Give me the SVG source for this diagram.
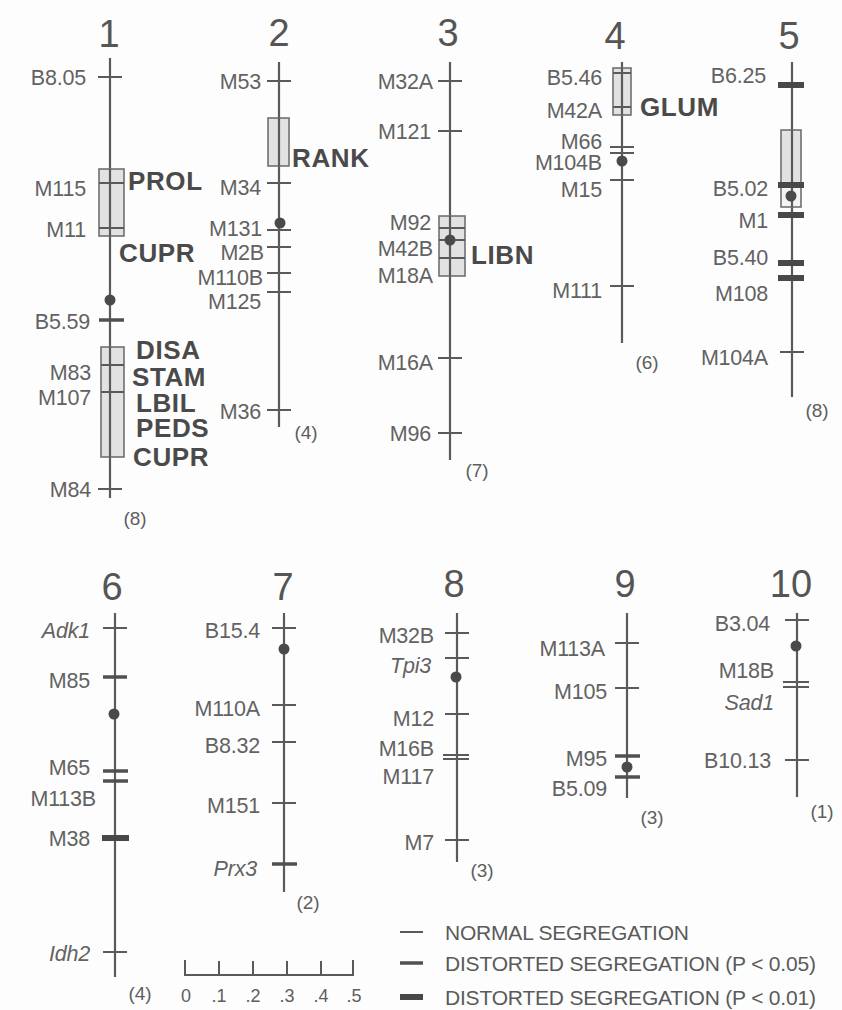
<svg xmlns="http://www.w3.org/2000/svg" width="842" height="1010" viewBox="0 0 842 1010">
<style>
.ax{stroke:#5a5a5a;stroke-width:2.2;fill:none}
.t1{stroke:#5a5a5a;stroke-width:2}
.t2{stroke:#505050;stroke-width:3.5}
.t3{stroke:#484848;stroke-width:6}
.bx{fill:#e2e2e2;stroke:#707070;stroke-width:1.6}
.bxw{fill:#f4f4f4;stroke:#707070;stroke-width:1.6}
.dot{fill:#4a4a4a}
text{font-family:"Liberation Sans",Arial,sans-serif}
.lb{font-size:21.5px;fill:#626262;text-anchor:end;letter-spacing:-0.2px}
.it{font-style:italic}
.bd{font-size:26px;font-weight:bold;fill:#4a4a4a;letter-spacing:0.6px}
.num{font-size:38px;fill:#555;text-anchor:middle}
.cnt{font-size:19px;fill:#5e5e5e;text-anchor:middle}
.lg{font-size:21px;fill:#5a5a5a;letter-spacing:-0.2px}
.sc{font-size:18px;fill:#5e5e5e;text-anchor:middle}
</style>
<rect width="842" height="1010" fill="#fdfdfd"/>

<g id="chr1">
<text class="num" x="109" y="47">1</text>
<line class="ax" x1="110" y1="58" x2="110" y2="498"/>
<rect class="bx" x="99" y="169" width="25" height="67"/>
<rect class="bx" x="101" y="347" width="23" height="110"/>
<line class="ax" x1="110" y1="169" x2="110" y2="236"/>
<line class="ax" x1="110" y1="347" x2="110" y2="457"/>
<line class="t1" x1="98" y1="77" x2="122" y2="77"/>
<line class="t1" x1="99" y1="183" x2="124" y2="183"/>
<line class="t1" x1="99" y1="228" x2="124" y2="228"/>
<circle class="dot" cx="110" cy="300" r="5.5"/>
<line class="t2" x1="99" y1="320" x2="124" y2="320"/>
<line class="t1" x1="101" y1="365" x2="124" y2="365"/>
<line class="t1" x1="101" y1="392" x2="124" y2="392"/>
<line class="t1" x1="98" y1="489" x2="122" y2="489"/>
<text class="lb" x="86" y="84.5">B8.05</text>
<text class="lb" x="86" y="196">M115</text>
<text class="lb" x="86" y="237">M11</text>
<text class="lb" x="90" y="329">B5.59</text>
<text class="lb" x="91" y="380">M83</text>
<text class="lb" x="91" y="405">M107</text>
<text class="lb" x="91" y="497">M84</text>
<text class="bd" x="128" y="190">PROL</text>
<text class="bd" x="119" y="262">CUPR</text>
<text class="bd" x="136" y="359">DISA</text>
<text class="bd" x="132" y="386">STAM</text>
<text class="bd" x="136" y="412">LBIL</text>
<text class="bd" x="136" y="437">PEDS</text>
<text class="bd" x="133" y="466">CUPR</text>
<text class="cnt" x="135" y="525">(8)</text>
</g>

<g id="chr2">
<text class="num" x="279" y="46">2</text>
<line class="ax" x1="279" y1="62" x2="279" y2="427"/>
<rect class="bx" x="268" y="118" width="21" height="48"/>
<line class="ax" x1="279" y1="118" x2="279" y2="166"/>
<line class="t1" x1="267" y1="81" x2="291" y2="81"/>
<line class="t1" x1="267" y1="183" x2="291" y2="183"/>
<circle class="dot" cx="280" cy="223" r="5.5"/>
<line class="t1" x1="267" y1="230" x2="291" y2="230"/>
<line class="t1" x1="267" y1="247" x2="291" y2="247"/>
<line class="t1" x1="267" y1="273" x2="291" y2="273"/>
<line class="t1" x1="267" y1="292" x2="291" y2="292"/>
<line class="t1" x1="267" y1="410" x2="291" y2="410"/>
<text class="lb" x="261" y="88.5">M53</text>
<text class="lb" x="261" y="195">M34</text>
<text class="lb" x="262" y="236">M131</text>
<text class="lb" x="264" y="260">M2B</text>
<text class="lb" x="263" y="285">M110B</text>
<text class="lb" x="261" y="309">M125</text>
<text class="lb" x="261" y="419">M36</text>
<text class="bd" x="292" y="167">RANK</text>
<text class="cnt" x="306" y="439">(4)</text>
</g>

<g id="chr3">
<text class="num" x="448" y="46">3</text>
<line class="ax" x1="450" y1="62" x2="450" y2="460"/>
<rect class="bx" x="439" y="216" width="26" height="60"/>
<line class="ax" x1="450" y1="216" x2="450" y2="276"/>
<line class="t1" x1="439" y1="228" x2="465" y2="228"/>
<line class="t1" x1="439" y1="240" x2="465" y2="240"/>
<line class="t1" x1="439" y1="258" x2="465" y2="258"/>
<circle class="dot" cx="450" cy="240" r="5.5"/>
<line class="t1" x1="438" y1="81" x2="462" y2="81"/>
<line class="t1" x1="438" y1="131" x2="462" y2="131"/>
<line class="t1" x1="438" y1="358" x2="462" y2="358"/>
<line class="t1" x1="438" y1="433" x2="462" y2="433"/>
<text class="lb" x="433" y="88.5">M32A</text>
<text class="lb" x="431" y="138.5">M121</text>
<text class="lb" x="431" y="229.5">M92</text>
<text class="lb" x="433" y="255.5">M42B</text>
<text class="lb" x="433" y="282.5">M18A</text>
<text class="lb" x="433" y="369.5">M16A</text>
<text class="lb" x="431" y="440.5">M96</text>
<text class="bd" x="471" y="264">LIBN</text>
<text class="cnt" x="477" y="477">(7)</text>
</g>

<g id="chr4">
<text class="num" x="615" y="49">4</text>
<line class="ax" x1="622" y1="62" x2="622" y2="343"/>
<rect class="bx" x="613" y="68" width="18" height="47"/>
<line class="ax" x1="622" y1="68" x2="622" y2="115"/>
<line class="t1" x1="613" y1="73" x2="631" y2="73"/>
<line class="t1" x1="613" y1="107" x2="631" y2="107"/>
<line class="t1" x1="610" y1="147" x2="634" y2="147"/>
<line class="t1" x1="610" y1="153" x2="634" y2="153"/>
<circle class="dot" cx="622" cy="161" r="5.5"/>
<line class="t1" x1="610" y1="180" x2="634" y2="180"/>
<line class="t1" x1="610" y1="286" x2="634" y2="286"/>
<text class="lb" x="602" y="84.5">B5.46</text>
<text class="lb" x="602" y="117.5">M42A</text>
<text class="lb" x="602" y="148.5">M66</text>
<text class="lb" x="602" y="170">M104B</text>
<text class="lb" x="602" y="196.5">M15</text>
<text class="lb" x="602" y="298">M111</text>
<text class="bd" x="640" y="116">GLUM</text>
<text class="cnt" x="647" y="369">(6)</text>
</g>

<g id="chr5">
<text class="num" x="789" y="49">5</text>
<line class="ax" x1="792" y1="62" x2="792" y2="397"/>
<rect class="bx" x="781" y="130" width="20" height="55"/>
<rect class="bxw" x="781" y="185" width="20" height="22"/>
<line class="ax" x1="792" y1="130" x2="792" y2="207"/>
<line class="t3" x1="778" y1="85" x2="804" y2="85"/>
<line class="t3" x1="778" y1="185" x2="804" y2="185"/>
<circle class="dot" cx="791" cy="196" r="5.5"/>
<line class="t3" x1="778" y1="215" x2="804" y2="215"/>
<line class="t3" x1="778" y1="263" x2="804" y2="263"/>
<line class="t3" x1="778" y1="278" x2="804" y2="278"/>
<line class="t1" x1="780" y1="352" x2="804" y2="352"/>
<text class="lb" x="766" y="82.5">B6.25</text>
<text class="lb" x="768" y="195.5">B5.02</text>
<text class="lb" x="768" y="227.5">M1</text>
<text class="lb" x="768" y="264.5">B5.40</text>
<text class="lb" x="768" y="300.5">M108</text>
<text class="lb" x="768" y="364.5">M104A</text>
<text class="cnt" x="817" y="417">(8)</text>
</g>

<g id="chr6">
<text class="num" x="112" y="600">6</text>
<line class="ax" x1="115" y1="613" x2="115" y2="977"/>
<line class="t1" x1="103" y1="628" x2="127" y2="628"/>
<line class="t2" x1="103" y1="677" x2="127" y2="677"/>
<circle class="dot" cx="114" cy="714" r="5.5"/>
<line class="t2" x1="103" y1="771" x2="128" y2="771"/>
<line class="t2" x1="103" y1="781" x2="128" y2="781"/>
<line class="t3" x1="102" y1="838" x2="129" y2="838"/>
<line class="t1" x1="103" y1="952" x2="127" y2="952"/>
<text class="lb it" x="90" y="637.5">Adk1</text>
<text class="lb" x="90" y="687.5">M85</text>
<text class="lb" x="90" y="774.5">M65</text>
<text class="lb" x="96" y="805.5">M113B</text>
<text class="lb" x="90" y="845.5">M38</text>
<text class="lb it" x="90" y="960.5">Idh2</text>
<text class="cnt" x="140" y="1000">(4)</text>
</g>

<g id="chr7">
<text class="num" x="283" y="600">7</text>
<line class="ax" x1="284" y1="613" x2="284" y2="892"/>
<line class="t1" x1="272" y1="628" x2="296" y2="628"/>
<circle class="dot" cx="284" cy="649" r="5.5"/>
<line class="t1" x1="272" y1="705" x2="296" y2="705"/>
<line class="t1" x1="272" y1="742" x2="296" y2="742"/>
<line class="t1" x1="272" y1="803" x2="296" y2="803"/>
<line class="t2" x1="272" y1="864" x2="297" y2="864"/>
<text class="lb" x="260" y="637.5">B15.4</text>
<text class="lb" x="260" y="715.5">M110A</text>
<text class="lb" x="260" y="752.5">B8.32</text>
<text class="lb" x="260" y="812.5">M151</text>
<text class="lb it" x="257" y="875.5">Prx3</text>
<text class="cnt" x="308" y="909">(2)</text>
</g>

<g id="scale">
<path class="t1" d="M185 960V975H353V960M219 961V975M253 961V975M287 961V975M321 961V975" fill="none"/>
<text class="sc" x="186" y="1002">0</text>
<text class="sc" x="219" y="1002">.1</text>
<text class="sc" x="253" y="1002">.2</text>
<text class="sc" x="287" y="1002">.3</text>
<text class="sc" x="321" y="1002">.4</text>
<text class="sc" x="354" y="1002">.5</text>
</g>

<g id="chr8">
<text class="num" x="454" y="597">8</text>
<line class="ax" x1="457" y1="613" x2="457" y2="862"/>
<line class="t1" x1="445" y1="633" x2="469" y2="633"/>
<line class="t1" x1="445" y1="658" x2="469" y2="658"/>
<circle class="dot" cx="456" cy="677" r="5.5"/>
<line class="t1" x1="445" y1="714" x2="469" y2="714"/>
<line class="t1" x1="443" y1="755" x2="469" y2="755"/>
<line class="t1" x1="443" y1="759" x2="469" y2="759"/>
<line class="t1" x1="445" y1="840" x2="469" y2="840"/>
<text class="lb" x="434" y="642.5">M32B</text>
<text class="lb it" x="431" y="672.5">Tpi3</text>
<text class="lb" x="434" y="725.5">M12</text>
<text class="lb" x="434" y="755.5">M16B</text>
<text class="lb" x="434" y="783.5">M117</text>
<text class="lb" x="434" y="849.5">M7</text>
<text class="cnt" x="482" y="877">(3)</text>
</g>

<g id="chr9">
<text class="num" x="625" y="597">9</text>
<line class="ax" x1="627" y1="613" x2="627" y2="798"/>
<line class="t1" x1="615" y1="643" x2="639" y2="643"/>
<line class="t1" x1="615" y1="688" x2="639" y2="688"/>
<line class="t2" x1="615" y1="756" x2="640" y2="756"/>
<circle class="dot" cx="627" cy="767" r="5.5"/>
<line class="t2" x1="615" y1="777" x2="640" y2="777"/>
<text class="lb" x="605" y="655.5">M113A</text>
<text class="lb" x="607" y="698.5">M105</text>
<text class="lb" x="607" y="765.5">M95</text>
<text class="lb" x="607" y="795.5">B5.09</text>
<text class="cnt" x="652" y="824">(3)</text>
</g>

<g id="chr10">
<text class="num" x="791" y="597">10</text>
<line class="ax" x1="797" y1="613" x2="797" y2="797"/>
<line class="t1" x1="785" y1="620" x2="809" y2="620"/>
<circle class="dot" cx="796" cy="646" r="5.5"/>
<line class="t1" x1="783" y1="682" x2="809" y2="682"/>
<line class="t1" x1="783" y1="687" x2="809" y2="687"/>
<line class="t1" x1="785" y1="760" x2="809" y2="760"/>
<text class="lb" x="770" y="630.5">B3.04</text>
<text class="lb" x="774" y="677.5">M18B</text>
<text class="lb it" x="774" y="709.5">Sad1</text>
<text class="lb" x="771" y="767.5">B10.13</text>
<text class="cnt" x="822" y="818">(1)</text>
</g>

<g id="legend">
<line class="t1" x1="400" y1="932" x2="423" y2="932"/>
<line class="t2" x1="400" y1="963" x2="423" y2="963"/>
<line class="t3" x1="400" y1="997" x2="423" y2="997"/>
<text class="lg" x="445" y="940">NORMAL SEGREGATION</text>
<text class="lg" x="445" y="971">DISTORTED SEGREGATION (P &lt; 0.05)</text>
<text class="lg" x="445" y="1005">DISTORTED SEGREGATION  (P &lt; 0.01)</text>
</g>
</svg>
